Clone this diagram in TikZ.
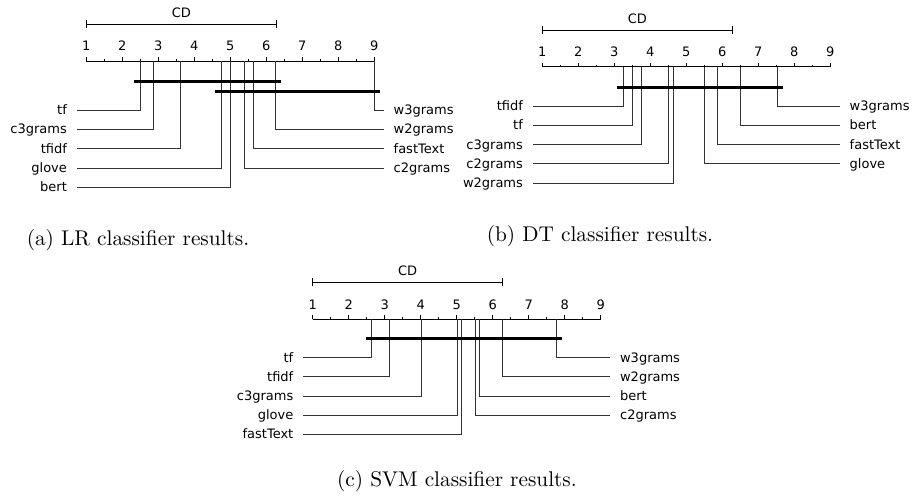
\documentclass[tikz,border=0pt]{standalone}
\usepackage{fontspec}
\newfontfamily\dv{DejaVu Sans}
\newfontfamily\capfont{lmroman10-regular.otf}
\tikzset{
  axisline/.style={line width=0.8pt, draw=black},
  conn/.style={line width=0.8pt, draw=black!80},
  clique/.style={line width=3pt, draw=black},
  lbl/.style={font=\dv\fontsize{13}{13}\selectfont, inner sep=0pt},
  num/.style={font=\dv\fontsize{13}{13}\selectfont, inner sep=0pt, anchor=base},
  captxt/.style={font=\capfont\fontsize{21.3}{24}\selectfont, inner sep=0pt, anchor=base},
}
\begin{document}
\begin{tikzpicture}[x=1pt,y=-1pt]
\useasboundingbox (0,0) rectangle (914,499);
% ---------------- panel (a)
\begin{scope}[shift={(86.3,61)}]
  \draw[axisline] (0,0) coordinate (a-ax1) -- (288,0) coordinate (a-ax9);
  \foreach \i in {1,...,9} {
    \draw[axisline] ({(\i-1)*36},0) -- ++(0,-4);
    \node[num] (a-n\i) at ({(\i-1)*36},-10.3) {\i};
  }
  \foreach \i in {1.5,2.5,...,8.5} { \draw[axisline] ({(\i-1)*36},0) -- ++(0,-2); }
  \coordinate (a-cd1) at (0,-37);
  \coordinate (a-cd2) at (190,-37);
  \draw[axisline] (a-cd1) -- (a-cd2);
  \draw[axisline] ([yshift=-4pt]a-cd1) -- ([yshift=4pt]a-cd1);
  \draw[axisline] ([yshift=-4pt]a-cd2) -- ([yshift=4pt]a-cd2);
  \node[num] (a-cd) at (95,-44) {CD};
  \foreach \n/\r/\k in {tf/2.49/0, c3grams/2.87/1, tfidf/3.62/2, glove/4.75/3, bert/4.99/4} {
    \coordinate (a-\n-top) at ({(\r-1)*36},0);
    \coordinate (a-\n-end) at (-9.6,{49+\k*19.3});
    \node[lbl,anchor=base east] (a-\n) at (-19.2,{49+\k*19.3+4.5}) {\n};
    \draw[conn] (a-\n-top) |- (a-\n-end);
  }
  \foreach \n/\r/\k in {w3grams/9.0/0, w2grams/6.25/1, fastText/5.63/2, c2grams/5.38/3} {
    \coordinate (a-\n-top) at ({(\r-1)*36},0);
    \coordinate (a-\n-end) at (297.6,{49+\k*19.3});
    \node[lbl,anchor=base west] (a-\n) at (307.2,{49+\k*19.3+4.5}) {\n};
    \draw[conn] (a-\n-top) |- (a-\n-end);
  }
  \draw[clique] ([shift={(-6,20.7)}]a-tf-top) -- ([shift={(6,20.7)}]a-w2grams-top);
  \draw[clique] ([shift={(-6,30)}]a-glove-top) -- ([shift={(6,30)}]a-w3grams-top);
\end{scope}
% ---------------- panel (b)
\begin{scope}[shift={(542.3,66.7)}]
  \draw[axisline] (0,0) coordinate (b-ax1) -- (288,0) coordinate (b-ax9);
  \foreach \i in {1,...,9} {
    \draw[axisline] ({(\i-1)*36},0) -- ++(0,-4);
    \node[num] (b-n\i) at ({(\i-1)*36},-10.3) {\i};
  }
  \foreach \i in {1.5,2.5,...,8.5} { \draw[axisline] ({(\i-1)*36},0) -- ++(0,-2); }
  \coordinate (b-cd1) at (0,-36.7);
  \coordinate (b-cd2) at (190,-36.7);
  \draw[axisline] (b-cd1) -- (b-cd2);
  \draw[axisline] ([yshift=-4pt]b-cd1) -- ([yshift=4pt]b-cd1);
  \draw[axisline] ([yshift=-4pt]b-cd2) -- ([yshift=4pt]b-cd2);
  \node[num] (b-cd) at (95,-43.7) {CD};
  \foreach \n/\r/\k in {tfidf/3.25/0, tf/3.5/1, c3grams/3.75/2, c2grams/4.5/3, w2grams/4.63/4} {
    \coordinate (b-\n-top) at ({(\r-1)*36},0);
    \coordinate (b-\n-end) at (-9.6,{39.3+\k*19.25});
    \node[lbl,anchor=base east] (b-\n) at (-19.2,{39.3+\k*19.25+4.5}) {\n};
    \draw[conn] (b-\n-top) |- (b-\n-end);
  }
  \foreach \n/\r/\k in {w3grams/7.52/0, bert/6.51/1, fastText/5.87/2, glove/5.5/3} {
    \coordinate (b-\n-top) at ({(\r-1)*36},0);
    \coordinate (b-\n-end) at (297.6,{39.3+\k*19.25});
    \node[lbl,anchor=base west] (b-\n) at (307.2,{39.3+\k*19.25+4.5}) {\n};
    \draw[conn] (b-\n-top) |- (b-\n-end);
  }
  \draw[clique] ([shift={(-6,20.3)}]b-tfidf-top) -- ([shift={(6,20.3)}]b-w3grams-top);
\end{scope}
% ---------------- panel (c)
\begin{scope}[shift={(312.7,319.3)}]
  \draw[axisline] (0,0) coordinate (c-ax1) -- (288,0) coordinate (c-ax9);
  \foreach \i in {1,...,9} {
    \draw[axisline] ({(\i-1)*36},0) -- ++(0,-4);
    \node[num] (c-n\i) at ({(\i-1)*36},-10.3) {\i};
  }
  \foreach \i in {1.5,2.5,...,8.5} { \draw[axisline] ({(\i-1)*36},0) -- ++(0,-2); }
  \coordinate (c-cd1) at (0,-37);
  \coordinate (c-cd2) at (190,-37);
  \draw[axisline] (c-cd1) -- (c-cd2);
  \draw[axisline] ([yshift=-4pt]c-cd1) -- ([yshift=4pt]c-cd1);
  \draw[axisline] ([yshift=-4pt]c-cd2) -- ([yshift=4pt]c-cd2);
  \node[num] (c-cd) at (95,-44) {CD};
  \foreach \n/\r/\k in {tf/2.64/0, tfidf/3.14/1, c3grams/4.01/2, glove/5.01/3, fastText/5.13/4} {
    \coordinate (c-\n-top) at ({(\r-1)*36},0);
    \coordinate (c-\n-end) at (-9.6,{38.4+\k*19.1});
    \node[lbl,anchor=base east] (c-\n) at (-19.2,{38.4+\k*19.1+4.5}) {\n};
    \draw[conn] (c-\n-top) |- (c-\n-end);
  }
  \foreach \n/\r/\k in {w3grams/7.76/0, w2grams/6.28/1, bert/5.63/2, c2grams/5.51/3} {
    \coordinate (c-\n-top) at ({(\r-1)*36},0);
    \coordinate (c-\n-end) at (297.6,{38.4+\k*19.1});
    \node[lbl,anchor=base west] (c-\n) at (307.2,{38.4+\k*19.1+4.5}) {\n};
    \draw[conn] (c-\n-top) |- (c-\n-end);
  }
  \draw[clique] ([shift={(-6,19.4)}]c-tf-top) -- ([shift={(6,19.4)}]c-w3grams-top);
\end{scope}
% ---------------- captions
\node[captxt] (capa) at (138,245) {(a) LR classifier results.};
\node[captxt] (capb) at (600,241) {(b) DT classifier results.};
\node[captxt] (capc) at (457,486) {(c) SVM classifier results.};
\end{tikzpicture}
\end{document}
